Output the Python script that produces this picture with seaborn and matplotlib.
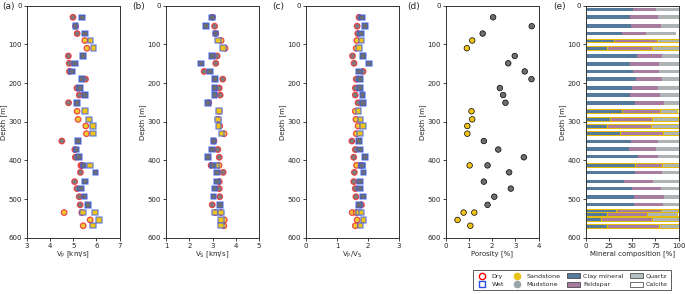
import matplotlib
matplotlib.use('Agg')
import matplotlib.pyplot as plt
from matplotlib.lines import Line2D
from matplotlib.patches import Patch
import numpy as np
import pandas as pd
import seaborn as sns

# sample data (one entry per core sample)
depth = [30, 53, 72, 90, 110, 130, 149, 170, 190, 213, 231, 251, 273, 294, 311,
         331, 350, 372, 392, 413, 413, 431, 455, 473, 494, 515, 535, 535, 554, 569]
lith = ['M', 'M', 'M', 'S', 'S', 'M', 'M', 'M', 'M', 'M', 'M', 'M', 'S', 'S', 'S',
        'S', 'M', 'M', 'M', 'S', 'M', 'M', 'M', 'M', 'M', 'M', 'S', 'S', 'S', 'S']
vp_dry = [4.99, 5.10, 5.17, 5.50, 5.59, 4.79, 4.83, 4.84, 5.53, 5.16, 5.26, 4.80, 5.17, 5.21, 5.54,
          5.57, 4.51, 5.07, 5.09, 5.33, 5.38, 5.31, 5.06, 5.16, 5.26, 5.30, 4.61, 5.37, 5.73, 5.43]
vp_wet = [5.37, 5.09, 5.51, 5.74, 5.87, 5.43, 5.07, 4.94, 5.36, 5.29, 5.51, 5.17, 5.51, 5.67, 5.86,
          5.86, 5.20, 5.14, 5.26, 5.72, 5.45, 5.96, 5.51, 5.34, 5.49, 5.63, 5.43, 5.94, 6.11, 5.84]
vs_dry = [3.00, 3.09, 3.14, 3.37, 3.54, 3.20, 3.14, 2.64, 3.44, 3.29, 3.33, 2.84, 3.29, 3.24, 3.31,
          3.50, 3.06, 3.23, 3.29, 3.28, 2.94, 3.46, 3.29, 3.29, 3.31, 2.99, 3.11, 3.36, 3.51, 3.49]
vs_wet = [2.97, 2.71, 3.13, 3.23, 3.46, 2.97, 2.51, 2.90, 3.10, 3.09, 3.09, 2.81, 3.29, 3.24, 3.26,
          3.39, 3.04, 2.97, 2.80, 3.17, 3.02, 3.20, 3.20, 3.09, 3.04, 3.33, 3.11, 3.36, 3.36, 3.36]
vpvs_dry = [1.71, 1.65, 1.67, 1.64, 1.62, 1.50, 1.55, 1.84, 1.62, 1.59, 1.59, 1.68, 1.59, 1.61, 1.68,
            1.62, 1.48, 1.59, 1.54, 1.63, 1.78, 1.56, 1.54, 1.59, 1.61, 1.79, 1.49, 1.62, 1.65, 1.59]
vpvs_wet = [1.80, 1.91, 1.77, 1.79, 1.71, 1.83, 2.04, 1.71, 1.75, 1.74, 1.82, 1.84, 1.69, 1.76, 1.83,
            1.74, 1.71, 1.75, 1.90, 1.81, 1.80, 1.85, 1.74, 1.75, 1.83, 1.71, 1.69, 1.79, 1.86, 1.76]
porosity = [2.04, 3.70, 1.59, 1.14, 0.91, 2.97, 2.69, 3.40, 3.69, 2.33, 2.47, 2.57, 1.11, 1.14, 0.93,
            0.93, 1.64, 2.26, 3.36, 1.03, 1.80, 2.73, 1.64, 2.80, 2.09, 1.80, 0.77, 1.23, 0.51, 1.06]

# mineral composition (XRD) samples
xrd_depth = [10, 30, 53, 72, 90, 110, 130, 150, 170, 190, 213, 231, 251, 273, 293,
             311, 330, 351, 371, 390, 412, 431, 455, 473, 495, 514, 531, 538, 552, 570]
xrd_lith = ['M', 'M', 'M', 'M', 'S', 'S', 'M', 'M', 'M', 'M', 'M', 'M', 'M', 'S', 'S',
            'S', 'S', 'M', 'M', 'M', 'S', 'M', 'M', 'M', 'M', 'M', 'S', 'S', 'S', 'S']
clay = [51, 48, 49, 39, 30, 23, 55, 48, 51, 54, 50, 48, 52.5, 39, 26,
        23, 37, 49, 47, 56.5, 52.5, 52.5, 41, 50, 52, 52, 33, 23, 16, 23]
feldspar = [25, 30, 32, 26, 47, 48, 27, 31, 28, 28, 28, 32, 31.5, 41, 45,
            47, 46, 29, 29, 21.5, 29.5, 29.5, 31, 31, 32.5, 30.6, 48, 43, 55, 56]
quartz = [24, 22, 19, 32.5, 23, 29, 18, 21, 21, 18, 22, 20, 16, 18, 28,
          30, 17, 22, 24, 22, 18, 18, 28, 19, 15.5, 17.4, 18, 32, 29, 21]
calcite = [0, 0, 0, 2.5, 0, 0, 0, 0, 0, 0, 0, 0, 0, 2, 1,
           0, 0, 0, 0, 0, 0, 0, 0, 0, 0, 0, 1, 2, 0, 0]

lith_colors = {'S': '#f0c419', 'M': '#6e6e6e'}
mineral_colors = ['#54799a', '#a77c9f', '#aeb4b6', 'white']
mineral_names = ['Clay mineral', 'Feldspar', 'Quartz', 'Calcite']

df = pd.DataFrame({'depth': depth, 'lith': lith, 'vp_dry': vp_dry, 'vp_wet': vp_wet,
                   'vs_dry': vs_dry, 'vs_wet': vs_wet, 'vpvs_dry': vpvs_dry,
                   'vpvs_wet': vpvs_wet, 'porosity': porosity})

sns.set_style('ticks')
plt.rcParams['font.family'] = ['DejaVu Sans']
plt.rcParams['font.size'] = 5
fs = 5

fig = plt.figure(figsize=(6.85, 2.94), dpi=100)
W, H = 685.0, 294.0
lefts = [26.7, 166, 306, 445.7, 585.7]
axw = 93.0
top, bot = 5.7, 237.7
axes = [fig.add_axes([l / W, 1 - bot / H, axw / W, (bot - top) / H]) for l in lefts]

panels = [('vp', (3, 7), 'V$_\\mathrm{P}$ [km/s]'),
          ('vs', (1, 5), 'V$_\\mathrm{S}$ [km/s]'),
          ('vpvs', (0, 3), 'V$_\\mathrm{P}$/V$_\\mathrm{S}$')]

for ax, (key, xlim, xlabel) in zip(axes[:3], panels):
    sns.scatterplot(data=df, x=key + '_dry', y='depth', hue='lith', palette=lith_colors,
                    marker='o', s=16, edgecolor='#e8383d', linewidth=0.9, alpha=0.9,
                    legend=False, ax=ax, zorder=3)
    sns.scatterplot(data=df, x=key + '_wet', y='depth', hue='lith', palette=lith_colors,
                    marker='s', s=16, edgecolor=(0.2, 0.35, 0.95, 0.55), linewidth=1.2,
                    legend=False, ax=ax, zorder=3)
    ax.set_xlim(*xlim)
    ax.set_xticks(np.arange(xlim[0], xlim[1] + 1))
    ax.set_xlabel(xlabel, fontsize=fs, labelpad=1)

sns.scatterplot(data=df, x='porosity', y='depth', hue='lith', palette=lith_colors,
                s=16, edgecolor='black', linewidth=0.5, legend=False, ax=axes[3], zorder=3)
axes[3].set_xlim(0, 4)
axes[3].set_xticks(range(0, 5))
axes[3].set_xlabel('Porosity [%]', fontsize=fs, labelpad=1)

# stacked mineral bars
ax = axes[4]
left = np.zeros(len(xrd_depth))
for vals, col, name in zip([clay, feldspar, quartz, calcite], mineral_colors, mineral_names):
    vals = np.array(vals, dtype=float)
    edges = ['#e6bf00' if l == 'S' else 'none' for l in xrd_lith]
    ax.barh(xrd_depth, vals, left=left, height=9.5, color=col,
            edgecolor=edges, linewidth=0.7, zorder=2)
    left += vals
ax.set_xlim(0, 100)
ax.set_xticks([0, 25, 50, 75, 100])
ax.set_xlabel('Mineral composition [%]', fontsize=fs, labelpad=1)

for ax in axes:
    ax.set_ylim(600, 0)
    ax.set_yticks(range(0, 601, 100))
    ax.set_ylabel('Depth [m]', fontsize=fs, labelpad=1)
    ax.tick_params(labelsize=fs, length=2, width=0.6, pad=1.5)
    for s in ax.spines.values():
        s.set_linewidth(0.7)
        s.set_color('#333333')

for x, lab in zip([2, 132, 272, 407, 553], ['(a)', '(b)', '(c)', '(d)', '(e)']):
    fig.text(x / W, 1 - 6 / H, lab, fontsize=6.5, va='center', ha='left')

handles = [
    Line2D([], [], marker='o', ls='', mfc='white', mec='red', mew=1.0, ms=4.5, label='Dry'),
    Line2D([], [], marker='s', ls='', mfc='white', mec='#2a4ee8', mew=1.0, ms=4.5, label='Wet'),
    Line2D([], [], marker='o', ls='', mfc='#e8c21a', mec='#e8c21a', ms=4.5, label='Sandstone'),
    Line2D([], [], marker='o', ls='', mfc='#98a6aa', mec='#98a6aa', ms=4.5, label='Mudstone'),
    Patch(facecolor=mineral_colors[0], edgecolor='#333333', lw=0.5, label='Clay mineral'),
    Patch(facecolor=mineral_colors[1], edgecolor='#333333', lw=0.5, label='Feldspar'),
    Patch(facecolor='#b4c0c4', edgecolor='#333333', lw=0.5, label='Quartz'),
    Patch(facecolor='white', edgecolor='#333333', lw=0.5, label='Calcite'),
]
leg = fig.legend(handles=handles, ncol=4, fontsize=4.6,
                 loc='lower right', bbox_to_anchor=(674 / W, 0.5 / H),
                 frameon=True, fancybox=False, edgecolor='#333333',
                 handlelength=2.0, handleheight=0.8, columnspacing=1.0,
                 labelspacing=0.45, borderpad=0.45, handletextpad=0.5)
leg.get_frame().set_linewidth(0.7)

plt.savefig('out.png', dpi=100)
plt.close()
